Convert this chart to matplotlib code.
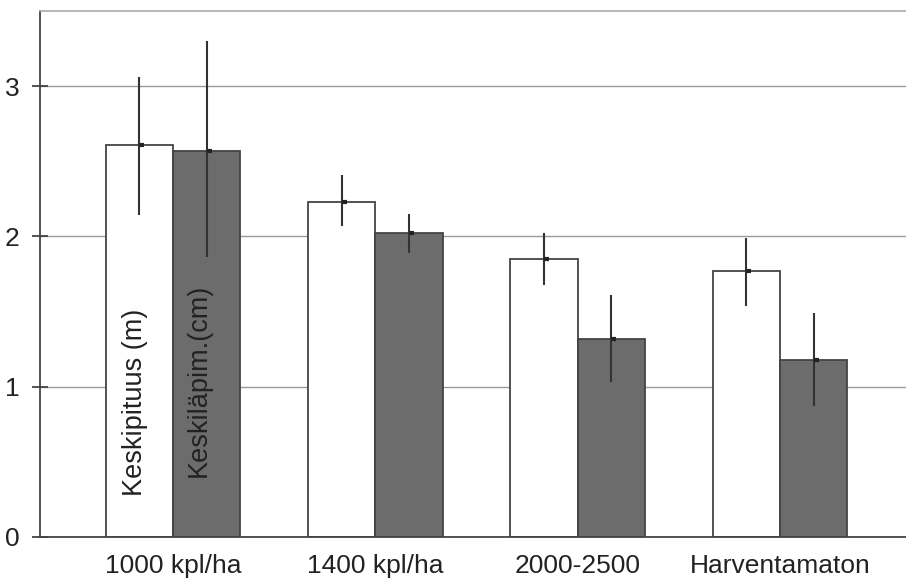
import numpy as np
import matplotlib
matplotlib.use("Agg")
import matplotlib.pyplot as plt

plt.rcParams['font.family'] = ['Liberation Sans', 'DejaVu Sans']

# data
groups = ['1000 kpl/ha', '1400 kpl/ha', '2000-2500', 'Harventamaton']
height = [2.61, 2.23, 1.85, 1.77]          # Keskipituus (m)
height_lo = [2.14, 2.07, 1.68, 1.54]
height_hi = [3.06, 2.41, 2.02, 1.99]
diam = [2.57, 2.02, 1.32, 1.18]            # Keskiläpim. (cm)
diam_lo = [1.86, 1.89, 1.03, 0.87]
diam_hi = [3.30, 2.15, 1.61, 1.49]
series_names = ['Keskipituus (m)', 'Keskiläpim.(cm)']
yticks = [0, 1, 2, 3]

fig = plt.figure(figsize=(9.06, 5.80), dpi=100)
ax = fig.add_axes([40 / 906, 43 / 580, 866 / 906, 526 / 580])

x = np.arange(len(groups))
w = 0.333
xa = x - w / 2
xb = x + w / 2

ax.bar(xa, height, width=w, color='white', edgecolor='#444444', linewidth=1.3, zorder=2)
ax.bar(xb, diam, width=w, color='#6c6c6c', edgecolor='#444444', linewidth=1.3, zorder=2)

# error lines, no caps
ax.vlines(xa, height_lo, height_hi, color='#333333', linewidth=1.5, zorder=3)
ax.vlines(xb, diam_lo, diam_hi, color='#333333', linewidth=1.5, zorder=3)
# small mean markers at bar top
ax.hlines(height, xa, xa + 0.025, color='#222222', linewidth=3, zorder=4)
ax.hlines(diam, xb, xb + 0.025, color='#222222', linewidth=3, zorder=4)

# series names written inside the first pair of bars
ax.text(xa[0] - 0.02, 0.27, series_names[0], rotation=90, ha='center', va='bottom',
        fontsize=19.5, color='#222222', zorder=5)
ax.text(xb[0] - 0.04, 0.40, series_names[1], rotation=90, ha='center', va='bottom',
        fontsize=19.5, color='#222222', zorder=5)

ax.set_xlim(-0.657, 3.623)
ax.set_ylim(0, 3.5)
ax.set_yticks(yticks)
ax.set_yticklabels([str(t) for t in yticks])
ax.set_xticks(x)
ax.set_xticklabels(groups)

ax.yaxis.grid(True, color='#999999', linewidth=1.0)
ax.set_axisbelow(True)

ax.tick_params(axis='y', direction='inout', length=11, width=1.3, color='#444444',
               pad=9, labelsize=19, labelcolor='#222222')
ax.tick_params(axis='x', length=0, pad=12, labelsize=19, labelcolor='#222222')

ax.spines['right'].set_visible(False)
ax.spines['top'].set_color('#aaaaaa')
ax.spines['top'].set_linewidth(1.2)
ax.spines['left'].set_color('#444444')
ax.spines['left'].set_linewidth(1.3)
ax.spines['bottom'].set_color('#444444')
ax.spines['bottom'].set_linewidth(1.3)

fig.savefig('out.png', dpi=100)
